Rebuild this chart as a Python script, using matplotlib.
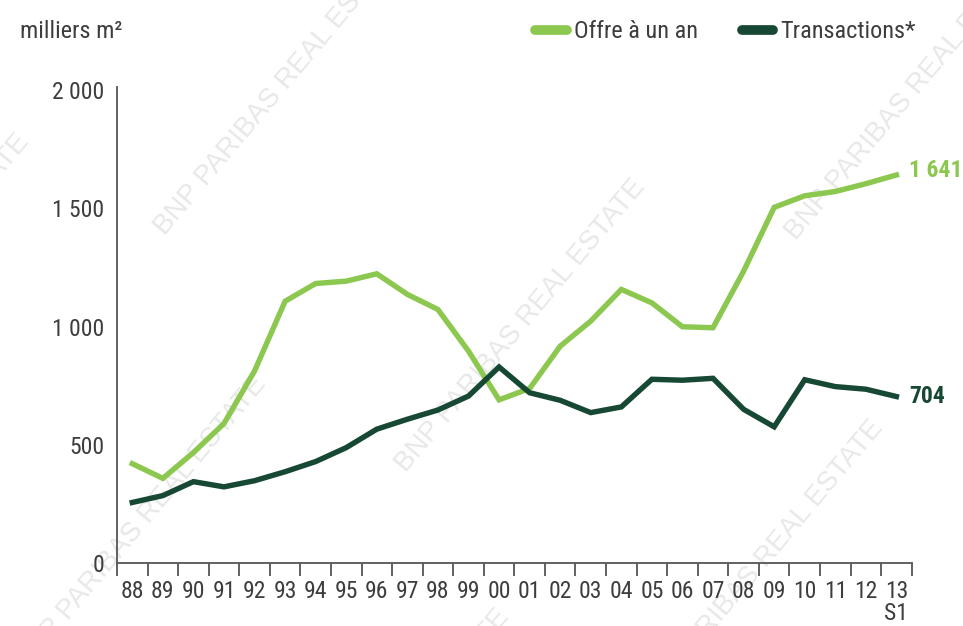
import matplotlib
matplotlib.use("Agg")
import matplotlib.pyplot as plt
from matplotlib import font_manager as fm
from matplotlib.lines import Line2D
import numpy as np

# ---- data ----
years = ["88", "89", "90", "91", "92", "93", "94", "95", "96", "97", "98", "99",
         "00", "01", "02", "03", "04", "05", "06", "07", "08", "09", "10", "11",
         "12", "13\nS1"]
offre = [420, 358, 467, 590, 812, 1107, 1182, 1192, 1223, 1136, 1072, 896,
         690, 738, 917, 1023, 1157, 1100, 999, 995, 1234, 1504, 1553, 1571,
         1604, 1641]
transactions = [256, 285, 344, 322, 348, 386, 429, 488, 566, 608, 647, 706,
                829, 720, 688, 636, 660, 777, 773, 781, 650, 576, 775, 746,
                735, 704]
series_names = ["Offre à un an", "Transactions*"]
yticks = [0, 500, 1000, 1500, 2000]
ytick_labels = ["0", "500", "1 000", "1 500", "2 000"]
unit_label = "milliers m²"
end_labels = ["1 641", "704"]

# ---- font choice: prefer a condensed face ----
fonts = fm.fontManager.ttflist
names = {f.name for f in fonts}
if "Roboto Condensed" in names:
    FONT, STRETCH, FS, FS2 = ["Roboto Condensed", "DejaVu Sans"], "normal", 17, 17.5
elif "Liberation Sans Narrow" in names:
    FONT, STRETCH, FS, FS2 = ["Liberation Sans Narrow", "DejaVu Sans"], "normal", 17, 18
elif any(f.name == "DejaVu Sans" and "condensed" in str(f.stretch) for f in fonts):
    FONT, STRETCH, FS, FS2 = ["DejaVu Sans"], "condensed", 15, 15
else:
    FONT, STRETCH, FS, FS2 = ["Liberation Sans", "DejaVu Sans"], "normal", 15, 15
plt.rcParams["font.family"] = FONT
plt.rcParams["font.stretch"] = STRETCH

# ---- style ----
LIGHT = "#8cc84f"
DARK = "#174834"
TEXT = "#3d3d40"

W, H = 963, 626
fig = plt.figure(figsize=(W / 100, H / 100), dpi=100)

# watermarks (figure pixel centres)
wm_centres = [(280, 89), (911, 94), (521, 326), (-95, 281), (142, 523),
              (759, 567), (385, 756)]
for cx, cy in wm_centres:
    fig.text(cx / W, 1 - cy / H, "BNP PARIBAS REAL ESTATE", rotation=50,
             rotation_mode="anchor", ha="center", va="center", fontsize=20,
             color="#e8e8e8", family=["Liberation Sans", "DejaVu Sans"],
             fontstretch="normal", zorder=-5)

ax = fig.add_axes([117 / W, 1 - 563 / H, (911.7 - 117) / W, (563 - 87) / H])
ax.patch.set_alpha(0)

x = np.arange(len(years))
ax.plot(x, offre, color=LIGHT, lw=3.9, solid_joinstyle="miter", zorder=3)
ax.plot(x, transactions, color=DARK, lw=3.9, solid_joinstyle="miter", zorder=4)

ax.set_xlim(-0.5, len(years) - 0.5)
ax.set_ylim(0, 2013)

for s in ["top", "right"]:
    ax.spines[s].set_visible(False)
for s in ["left", "bottom"]:
    ax.spines[s].set_color("#555555")
    ax.spines[s].set_linewidth(1.3)

ax.set_yticks(yticks)
ax.set_yticklabels(ytick_labels)
ax.tick_params(axis="y", length=0, pad=9, labelsize=FS, labelcolor=TEXT)

ax.set_xticks(x)
ax.set_xticklabels(years, linespacing=0.95)
ax.tick_params(axis="x", which="major", length=0, pad=12, labelsize=FS,
               labelcolor=TEXT)
ax.set_xticks(np.arange(-0.5, len(years)), minor=True)
ax.tick_params(axis="x", which="minor", length=9, width=1.3, color="#555555",
               direction="out")

# end labels
ax.annotate(end_labels[0], (x[-1], offre[-1]), xytext=(9, 3),
            textcoords="offset points", ha="left", va="center",
            fontsize=FS, color=LIGHT, fontweight="bold", annotation_clip=False)
ax.annotate(end_labels[1], (x[-1], transactions[-1]), xytext=(9, 0),
            textcoords="offset points", ha="left", va="center",
            fontsize=FS, color=DARK, fontweight="bold", annotation_clip=False)

fig.text(20 / W, 1 - 32 / H, unit_label, ha="left", va="center",
         fontsize=FS2, color=TEXT)

handles = [Line2D([0], [0], color=LIGHT, lw=7, solid_capstyle="round"),
           Line2D([0], [0], color=DARK, lw=7, solid_capstyle="round")]
fig.legend(handles, series_names, loc="center right",
           bbox_to_anchor=(916 / W, 1 - 32 / H), ncol=2, frameon=False,
           fontsize=FS2, handlelength=1.3, handletextpad=0.3,
           columnspacing=1.8, borderaxespad=0, borderpad=0,
           labelcolor=TEXT)

fig.savefig("out.png", dpi=100)
